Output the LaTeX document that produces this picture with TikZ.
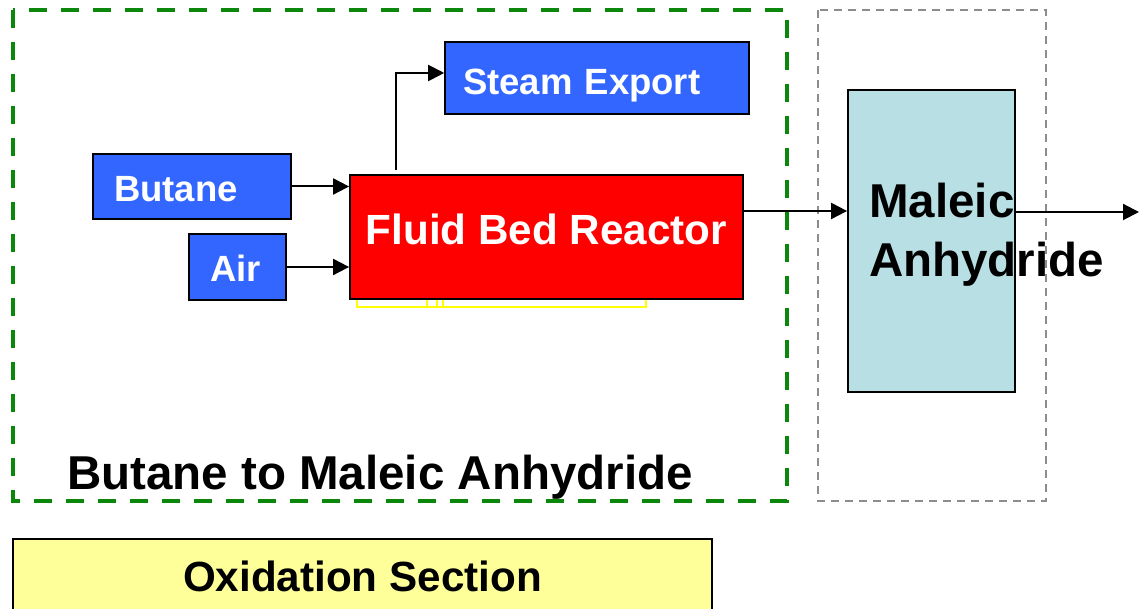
\documentclass[tikz,border=0pt]{standalone}
\usepackage{fontspec}
\setmainfont{Liberation Sans}
\usetikzlibrary{positioning, calc, arrows.meta}
\definecolor{BoxBlue}{HTML}{3366FF}
\definecolor{ReactorRed}{HTML}{FF0000}
\definecolor{ProductCyan}{HTML}{B8E0E4}
\definecolor{SectionYellow}{HTML}{FFFF99}
\definecolor{BorderGreen}{HTML}{0B870B}
\definecolor{BorderGrey}{HTML}{8C8C8C}
\definecolor{Mark}{HTML}{FFFF00}
\tikzset{
    feedbox/.style={rectangle, draw=black, line width=1.6pt, fill=BoxBlue, text=white, align=left, inner xsep=21pt, inner ysep=0pt, font=\fontsize{36.5}{44}\selectfont\bfseries, text height=30pt, text depth=0pt},
    reactorbox/.style={rectangle, draw=black, line width=1.8pt, fill=ReactorRed, text=white, inner sep=0pt, font=\fontsize{42.2}{50}\selectfont\bfseries, text height=31pt, text depth=15pt},
    productbox/.style={rectangle, draw=black, line width=1.8pt, fill=ProductCyan, inner sep=0pt},
    sectionbox/.style={rectangle, draw=black, line width=1.8pt, fill=SectionYellow, inner sep=0pt, font=\fontsize{42.2}{50}\selectfont\bfseries, text height=30pt, text depth=0pt},
    arrow/.style={-{Triangle[length=16pt, width=16pt]}, line width=2pt, color=black},
}

\begin{document}
\begin{tikzpicture}[x=1pt, y=1pt]
    \useasboundingbox (0,0) rectangle (1139,609);

    % Section borders
    \draw[BorderGreen, line width=4pt, dash pattern=on 18pt off 14pt] (13,599) rectangle (787,108);
    \draw[BorderGrey, line width=2pt, dash pattern=on 8pt off 6pt] (818,599) rectangle (1046,108);

    % Units
    \node[feedbox, text width=156pt, minimum height=65pt] (butane) at (192,422.5) {Butane};
    \node[feedbox, text width=55pt, minimum height=66pt] (air) at (237.5,342) {Air};
    \node[reactorbox, minimum width=393pt, minimum height=124pt] (reactor) at (546.5,372) {Fluid Bed Reactor};
    \node[feedbox, inner xsep=18pt, text width=268pt, minimum height=72pt, text height=34pt] (steam) at (597,531) {Steam Export};
    \node[productbox, minimum width=167pt, minimum height=302pt] (maleic) at (931.5,368) {};
    \node[anchor=west, inner sep=0pt, align=left, font=\fontsize{47.5}{59}\selectfont\bfseries] (maleictext) at (869,374) {Maleic\\Anhydride};
    \coordinate (outlet) at (1139,397);

    % Marks under the reactor
    \draw[Mark, line width=1.5pt] ([xshift=8pt]reactor.south west) -- ++(0,-7) -| ([xshift=-98pt]reactor.south east);
    \foreach \dx in {78,88,94}
        \draw[Mark, line width=1.5pt] ([xshift=\dx pt]reactor.south west) -- ++(0,-7);

    % Streams
    \draw[arrow] (butane.east) -- (butane.east -| reactor.west);
    \draw[arrow] (air.east) -- (air.east -| reactor.west);
    \draw[arrow] ([xshift=47pt, yshift=4pt]reactor.north west) |- ([yshift=5pt]steam.west);
    \draw[arrow] ([yshift=26pt]reactor.east) -- ([yshift=26pt]reactor.east -| maleic.west);
    \draw[arrow] (maleic.east |- outlet) -- (outlet);

    % Titles
    \node[anchor=base west, inner sep=0pt, font=\fontsize{47.5}{57}\selectfont\bfseries] (title) at (67,119) {Butane to Maleic Anhydride};
    \node[sectionbox, minimum width=699pt, minimum height=76pt] (section) at (362.5,32) {Oxidation Section};
\end{tikzpicture}
\end{document}
